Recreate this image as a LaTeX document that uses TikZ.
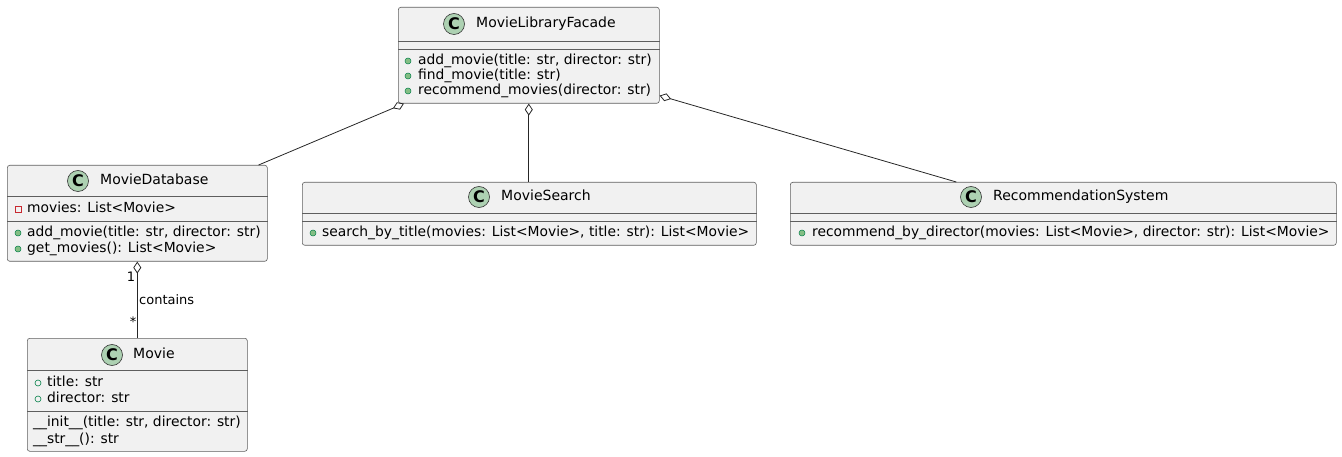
\documentclass[tikz,border=0pt]{standalone}
\usepackage{fontspec}
\setmainfont{DejaVu Sans}
\usepackage{tikz}
\usetikzlibrary{arrows.meta}
\usetikzlibrary{positioning}

\definecolor{boxfill}{HTML}{F1F1F1}
\definecolor{boxline}{HTML}{5E5E5E}
\definecolor{cfill}{HTML}{ADD1B2}
\definecolor{pubfill}{HTML}{84BE84}
\definecolor{publine}{HTML}{038048}
\definecolor{privline}{HTML}{C82930}

\begin{document}
\begin{tikzpicture}[x=1pt,y=-1pt,
  class node/.style={rectangle,rounded corners=2.5pt,fill=boxfill,draw=boxline,line width=0.6pt,anchor=north west,inner sep=0},
  sep/.style={draw=boxline,line width=0.6pt},
  class mark/.style={circle,fill=cfill,draw=black!80,line width=0.6pt,minimum size=21pt,inner sep=0,font=\fontsize{16}{16}\selectfont\bfseries},
  class name/.style={anchor=west,inner sep=0,text height=10.5pt,text depth=3pt,font=\fontsize{14}{16}\selectfont},
  member/.style={anchor=west,inner sep=0,text height=10.5pt,text depth=3pt,font=\fontsize{13.85}{16}\selectfont},
  pub method/.style={circle,fill=pubfill,draw=publine,line width=0.5pt,minimum size=6pt,inner sep=0},
  pub field/.style={circle,draw=publine,line width=0.6pt,minimum size=6pt,inner sep=0},
  priv field/.style={rectangle,draw=privline,line width=0.6pt,minimum size=6pt,inner sep=0},
  aggr/.style={<-,>={Diamond[open,length=12pt,width=8pt]},draw=black!85,line width=0.8pt},
  link label/.style={inner sep=0,font=\fontsize{13}{15}\selectfont}]

  \useasboundingbox (0,0) rectangle (1342,457);

  % facade
  \node[class node,minimum width=261pt,minimum height=96pt] (facade) at (398,7) {};
  \node[class mark] (facadeC) at (454,24) {C};
  \node[class name] (facadeN) at (476,24) {MovieLibraryFacade};
  \draw[sep] ([yshift=-34pt]facade.north west) -- ([yshift=-34pt]facade.north east);
  \draw[sep] ([yshift=-42pt]facade.north west) -- ([yshift=-42pt]facade.north east);
  \node[pub method] (facadeM1) at (408,61) {};
  \node[member] (facadeT1) at (418,61) {add\_movie(title: str, director: str)};
  \node[pub method] (facadeM2) at (408,76) {};
  \node[member] (facadeT2) at (418,76) {find\_movie(title: str)};
  \node[pub method] (facadeM3) at (408,91) {};
  \node[member] (facadeT3) at (418,91) {recommend\_movies(director: str)};

  % database
  \node[class node,minimum width=260pt,minimum height=96pt] (db) at (7,165) {};
  \node[class mark] (dbC) at (78,181) {C};
  \node[class name] (dbN) at (100,181) {MovieDatabase};
  \draw[sep] ([yshift=-31pt]db.north west) -- ([yshift=-31pt]db.north east);
  \draw[sep] ([yshift=-56pt]db.north west) -- ([yshift=-56pt]db.north east);
  \node[priv field] (dbF1) at (18,209) {};
  \node[member] (dbT1) at (27,209) {movies: List<Movie>};
  \node[pub method] (dbM1) at (18,233) {};
  \node[member] (dbT2) at (27,233) {add\_movie(title: str, director: str)};
  \node[pub method] (dbM2) at (18,249) {};
  \node[member] (dbT3) at (27,249) {get\_movies(): List<Movie>};

  % movie
  \node[class node,minimum width=220pt,minimum height=113pt] (movie) at (27,338) {};
  \node[class mark] (movieC) at (112,355) {C};
  \node[class name] (movieN) at (133,355) {Movie};
  \draw[sep] ([yshift=-32pt]movie.north west) -- ([yshift=-32pt]movie.north east);
  \draw[sep] ([yshift=-73pt]movie.north west) -- ([yshift=-73pt]movie.north east);
  \node[pub field] (movieF1) at (38,383) {};
  \node[member] (movieT1) at (47,383) {title: str};
  \node[pub field] (movieF2) at (38,399) {};
  \node[member] (movieT2) at (47,399) {director: str};
  \node[member] (movieT3) at (33,423) {\_\_init\_\_(title: str, director: str)};
  \node[member] (movieT4) at (33,440) {\_\_str\_\_(): str};

  % search
  \node[class node,minimum width=454pt,minimum height=63pt] (search) at (302,182) {};
  \node[class mark] (searchC) at (479,197) {C};
  \node[class name] (searchN) at (501,197) {MovieSearch};
  \draw[sep] ([yshift=-31pt]search.north west) -- ([yshift=-31pt]search.north east);
  \draw[sep] ([yshift=-39pt]search.north west) -- ([yshift=-39pt]search.north east);
  \node[pub method] (searchM1) at (313,233) {};
  \node[member] (searchT1) at (322,233) {search\_by\_title(movies: List<Movie>, title: str): List<Movie>};

  % recommendation
  \node[class node,minimum width=546pt,minimum height=63pt] (rec) at (790,182) {};
  \node[class mark] (recC) at (971,197) {C};
  \node[class name] (recN) at (993,197) {RecommendationSystem};
  \draw[sep] ([yshift=-31pt]rec.north west) -- ([yshift=-31pt]rec.north east);
  \draw[sep] ([yshift=-39pt]rec.north west) -- ([yshift=-39pt]rec.north east);
  \node[pub method] (recM1) at (802,233) {};
  \node[member] (recT1) at (812,233) {recommend\_by\_director(movies: List<Movie>, director: str): List<Movie>};

  % links
  \draw[aggr] ([xshift=6pt]facade.south west) -- ([xshift=-9pt]db.north east);
  \draw[aggr] (facade.south) -- (facade.south |- search.north);
  \draw[aggr] ([yshift=8pt]facade.south east) -- ([xshift=-107pt]rec.north);
  \draw[aggr] (db.south) -- (movie.north);

  \node[link label] (one) at (131,277) {1};
  \node[link label,anchor=west] (contains) at (139,300) {contains};
  \node[link label] (many) at (133,322) {*};
\end{tikzpicture}
\end{document}
